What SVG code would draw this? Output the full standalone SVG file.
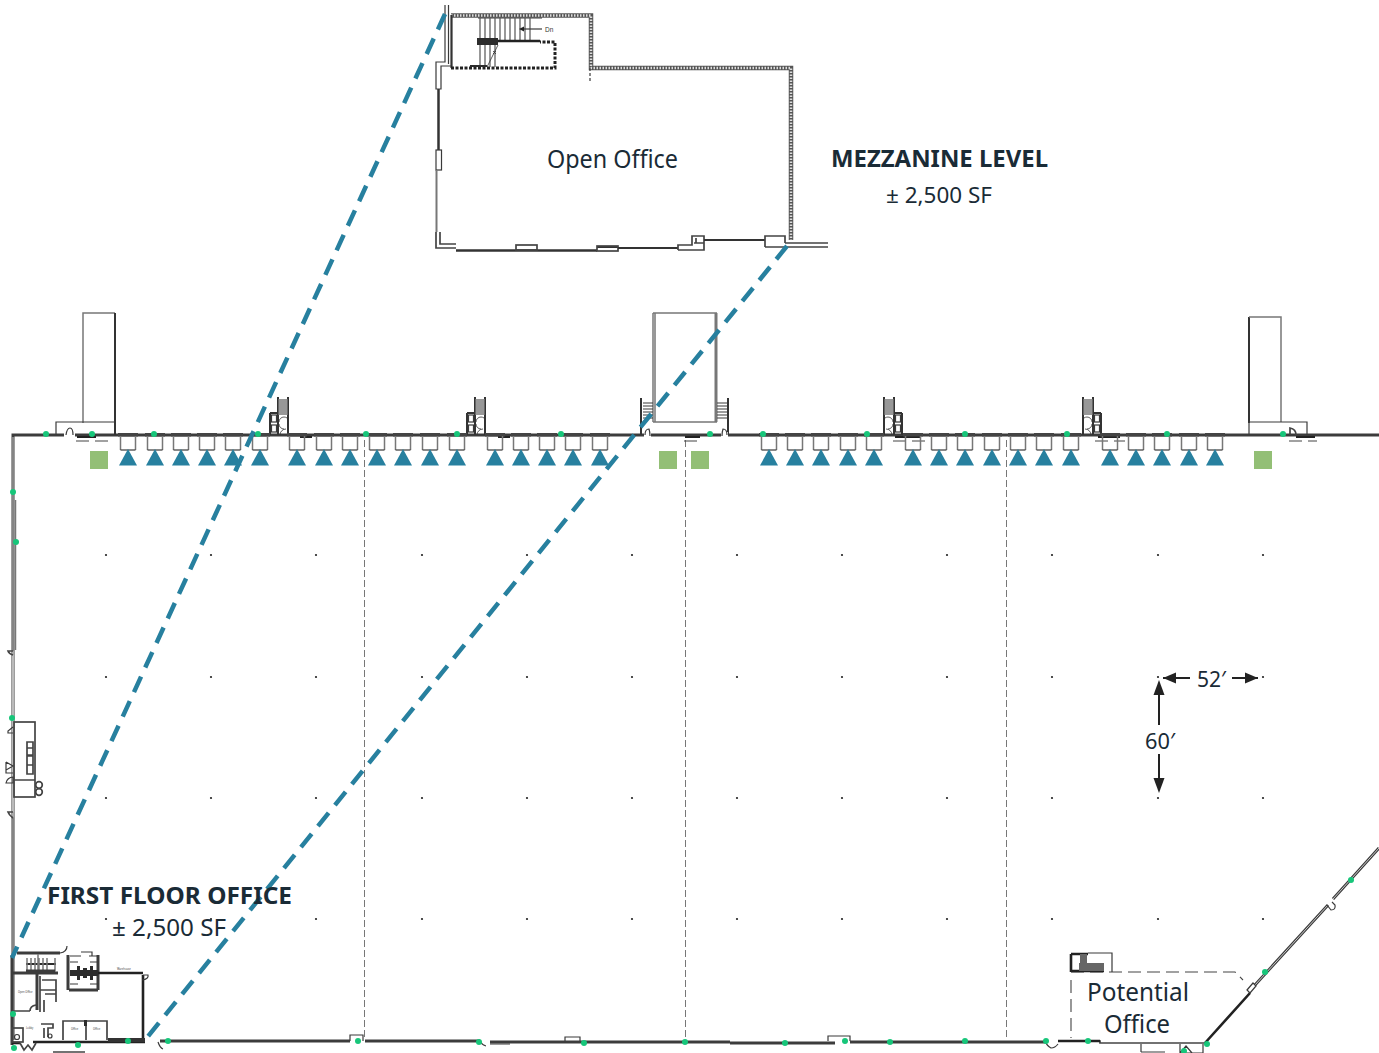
<svg xmlns="http://www.w3.org/2000/svg" width="1379" height="1053" viewBox="0 0 1379 1053">
<style>
text{font-family:"Noto Sans","Open Sans","Liberation Sans",sans-serif;fill:#1a2b36}
.b{font-weight:700}
.w{fill:none;stroke:#333;stroke-width:2}
.m{fill:none;stroke:#3a3a3a;stroke-width:1.200}
.m6{fill:none;stroke:#444;stroke-width:1.700}
.t{fill:none;stroke:#333;stroke-width:.8}
.g{fill:none;stroke:#777;stroke-width:1.500}
.k{fill:none;stroke:#222;stroke-width:2.600}
.dw{fill:none;stroke:#3c3c3c;stroke-width:3}
.di{fill:none;stroke:#ccc;stroke-width:1}
.hb{fill:none;stroke:#555;stroke-width:4.500}
.hw{fill:none;stroke:#ddd;stroke-width:2.500;stroke-dasharray:1.500 1.500}
.dots{fill:none;stroke:#222;stroke-width:3;stroke-dasharray:3 1.500}
.dl{fill:none;stroke:#777;stroke-width:1;stroke-dasharray:7 3}
.pd{fill:none;stroke:#444;stroke-width:1.100;stroke-dasharray:13 6}
.sl{fill:none;stroke:#27809f;stroke-width:4.500;stroke-dasharray:17 10}
.tri{fill:#27809f}
.sq{fill:#93bf76}
.gd{fill:#17c67a}
.dot{fill:#222}
.ar{fill:#222}
.ln{fill:none;stroke:#222;stroke-width:2}
.tiny{font-size:2.600px;fill:#444}
.bk{fill:#2c2c2c}
</style>
<defs>
<g id="dock"><rect x="-10" y="-2" width="20" height="3.500" fill="#444"/><path class="g" d="M-7.500 1V15M7.500 1V15"/><path class="m" d="M-7.500 15H7.500"/><polygon class="tri" points="0,14 9,30.500 -9,30.500"/></g>
<g id="stair"><path class="w" d="M0 0V38M10 0V38M-8 16H0M-8 16V38"/><path class="g" d="M0 3H10M0 5H10M0 7H10M0 9H10M0 11H10M0 13H10M0 15H10M0 17H10"/><rect x="-6.500" y="18" width="5" height="7" class="m"/><rect x="-6.500" y="28" width="5" height="7" class="m"/><path class="t" d="M1 25a5 5 0 0 1 5 -5a5 5 0 0 1 3 1M1 27a5 5 0 0 0 5 5M2 38a6 6 0 0 1 6 -6"/></g>
<g id="post"><circle r="1.100" class="dot"/></g>
<g id="gp"><circle r="3" class="gd"/></g>
</defs>

<g id="floor-walls">
<path class="dw" d="M13 1040V651M13 655V812M13 818V435H1379"/>
<path class="di" d="M13 1040V651M13 655V812M13 818V437"/>
<path class="g" d="M15.500 500V650"/>
<path class="m6" d="M13 651h-5q1 3 5 4M13 812h-5q1 3 5 6"/>
<path class="dw" d="M160 1041H350M365 1041H480M490 1042H730M730 1043H835M850 1042H1045"/>
<path class="m6" d="M1058 1041H1100V1043H1205"/>
<path class="k" d="M1058 1041H1100M1205 1043L1250 993"/>
<path class="dw" d="M1255 985L1328 905M1333 899L1379 848"/>
<path class="di" d="M1255 985L1328 905M1333 899L1379 848"/>
<path class="m" d="M1141 1052H1165M1180 1044V1053H1203V1044M1180 1053L1186 1046 1192 1053M1141 1044V1052"/>
<path class="m" d="M1327 905l4 5q5 0 4 -5l-3 -3"/>
<path class="m" d="M1247 990l6 -7 3 3 -6 7z"/>
<path class="m" d="M350 1041V1035H363V1041M565 1041V1037H580V1041M828 1041V1036H850V1041M1045 1041q2 5 6 7 4 0 7 -4"/>
<path class="m" d="M480 1041q2 4 6 5M510 1044H490M158 1042q2 6 5 7"/>
</g>

<g id="left-rooms">
<rect class="m6" x="14" y="722" width="21" height="75"/>
<path class="m6" d="M14 780H35M27 742h6v6h-6zM27 748h6v7h-6zM27 756h6v9h-6zM27 765h6v9h-6z"/>
<circle class="m6" cx="39" cy="785" r="3.300"/><circle class="m6" cx="39" cy="792" r="3.300"/>
<path class="m" d="M13 733h-5v-2l5 -4M6 762l7 4 -7 4v3h7M6 762v11M6 783a7 7 0 0 1 7 -6v6z"/>
</g>

<g id="column-grid">
<path class="dl" d="M364.500 440V1040M685.500 440V1040M1006.500 440V1040"/>
<use href="#post" x="106" y="555"/><use href="#post" x="211" y="555"/><use href="#post" x="316" y="555"/><use href="#post" x="422" y="555"/><use href="#post" x="527" y="555"/><use href="#post" x="632" y="555"/><use href="#post" x="737" y="555"/><use href="#post" x="842" y="555"/><use href="#post" x="947" y="555"/><use href="#post" x="1052" y="555"/><use href="#post" x="1158" y="555"/><use href="#post" x="1263" y="555"/>
<use href="#post" x="106" y="677"/><use href="#post" x="211" y="677"/><use href="#post" x="316" y="677"/><use href="#post" x="422" y="677"/><use href="#post" x="527" y="677"/><use href="#post" x="632" y="677"/><use href="#post" x="737" y="677"/><use href="#post" x="842" y="677"/><use href="#post" x="947" y="677"/><use href="#post" x="1052" y="677"/><use href="#post" x="1158" y="677"/><use href="#post" x="1263" y="677"/>
<use href="#post" x="106" y="798"/><use href="#post" x="211" y="798"/><use href="#post" x="316" y="798"/><use href="#post" x="422" y="798"/><use href="#post" x="527" y="798"/><use href="#post" x="632" y="798"/><use href="#post" x="737" y="798"/><use href="#post" x="842" y="798"/><use href="#post" x="947" y="798"/><use href="#post" x="1052" y="798"/><use href="#post" x="1158" y="798"/><use href="#post" x="1263" y="798"/>
<use href="#post" x="106" y="919"/><use href="#post" x="211" y="919"/><use href="#post" x="316" y="919"/><use href="#post" x="422" y="919"/><use href="#post" x="527" y="919"/><use href="#post" x="632" y="919"/><use href="#post" x="737" y="919"/><use href="#post" x="842" y="919"/><use href="#post" x="947" y="919"/><use href="#post" x="1052" y="919"/><use href="#post" x="1158" y="919"/><use href="#post" x="1263" y="919"/>
</g>

<g id="towers">
<path class="g" d="M83 423V313H115"/><path class="w" d="M115 313V435"/><path class="m" d="M56 435V422H115"/>
<path class="g" d="M653 422V313M655 313V422M653 313H717M653 422H717"/>
<path class="g" style="stroke-width:3" d="M716 313V422"/>
<path class="w" d="M641 435V398M728 435V398"/>
<path class="m" d="M643 403H653M643 406H653M643 409H653M643 412H653M643 415H653M643 418H653M717 403H727M717 406H727M717 409H727M717 412H727M717 415H727M717 418H727"/>
<rect x="644" y="432" width="7" height="5" fill="#fff"/><rect x="721" y="432" width="7" height="5" fill="#fff"/>
<path class="m" d="M645 435q0 -6 4 -6 1 3 1 7M722 436q0 -4 1 -7 4 0 4 6"/>
<path class="w" d="M1249 423V317"/><path class="g" d="M1249 317H1281V422"/><path class="m" d="M1249 435V422H1307V435"/>
<rect x="64" y="432" width="11" height="5" fill="#fff"/><path class="m" d="M66 435q1 -7 4 -7 3 0 3 7"/>
<path class="m6" d="M1290 435v-7q6 1 6 7"/>
<path class="pd" d="M76 441H113M1289 441H1317M893 441H928M1095 441H1125M684 441H700"/>
<path class="k" d="M77 437H96M1296 437H1315M895 437H920M1098 437H1120M685 437H700M300 437H312M498 437H510" style="stroke-width:2"/>
<use href="#stair" x="278" y="397"/>
<use href="#stair" x="475" y="397"/>
<use href="#stair" transform="translate(894 397) scale(-1 1)"/>
<use href="#stair" transform="translate(1093 397) scale(-1 1)"/>
</g>

<g id="docks">
<use href="#dock" x="128" y="435"/><use href="#dock" x="155" y="435"/><use href="#dock" x="181" y="435"/><use href="#dock" x="207" y="435"/><use href="#dock" x="233" y="435"/><use href="#dock" x="260" y="435"/>
<use href="#dock" x="297" y="435"/><use href="#dock" x="324" y="435"/><use href="#dock" x="350" y="435"/><use href="#dock" x="377" y="435"/><use href="#dock" x="403" y="435"/><use href="#dock" x="430" y="435"/><use href="#dock" x="457" y="435"/>
<use href="#dock" x="495" y="435"/><use href="#dock" x="521" y="435"/><use href="#dock" x="547" y="435"/><use href="#dock" x="573" y="435"/><use href="#dock" x="600" y="435"/>
<use href="#dock" x="769" y="435"/><use href="#dock" x="795" y="435"/><use href="#dock" x="821" y="435"/><use href="#dock" x="848" y="435"/><use href="#dock" x="874" y="435"/>
<use href="#dock" x="913" y="435"/><use href="#dock" x="939" y="435"/><use href="#dock" x="965" y="435"/><use href="#dock" x="992" y="435"/><use href="#dock" x="1018" y="435"/><use href="#dock" x="1044" y="435"/><use href="#dock" x="1071" y="435"/>
<use href="#dock" x="1110" y="435"/><use href="#dock" x="1136" y="435"/><use href="#dock" x="1162" y="435"/><use href="#dock" x="1189" y="435"/><use href="#dock" x="1215" y="435"/>
<rect class="sq" x="90" y="451" width="18" height="18"/><rect class="sq" x="659" y="451" width="18" height="18"/><rect class="sq" x="691" y="451" width="18" height="18"/><rect class="sq" x="1254" y="451" width="18" height="18"/>
</g>

<g id="mezzanine">
<path class="hb" d="M451 15.500H591V68H791V240"/>
<path class="hw" d="M451 15.500H591V68H791V240"/>
<path class="w" style="stroke-width:2.200" d="M451.500 15V68"/>
<path class="dots" d="M451 68H555V42H540"/>
<path class="m" d="M590 68V83" style="stroke-dasharray:3 2"/>
<path class="m" d="M448.500 5V64M445 5V62H436V89H441V66H451"/>
<path class="w" style="stroke-width:2.500" d="M438.500 89V150"/>
<rect x="436" y="150" width="5.500" height="20" class="m"/>
<path class="g" style="stroke-width:2" d="M436.500 170V232"/>
<path class="m6" d="M436 232V248H456M440 232V244H456"/>
<path class="w" style="stroke-width:2.500" d="M456 250.500H597"/>
<rect x="516" y="245" width="21" height="5" class="m6" fill="#fff"/>
<path class="w" d="M597 247H618"/><rect x="597" y="246" width="21" height="5" class="m6"/>
<path class="w" d="M618 248H678"/>
<path class="m6" d="M678 250V245H692V236H704V250H678M694 243H704M696 238V243"/>
<path class="w" d="M704 240H765"/>
<path class="m6" d="M765 247V236H785V243M765 247H828M785 243H828"/>
<path class="m" d="M478 18H542"/>
<path class="m" style="stroke:#555" d="M480 18V42M485 18V42M490 18V42M495 18V42M500 18V42M505 18V42M510 18V42M515 18V42M520 18V42M525 18V42M530 18V42M480 45V67M485 45V67M490 45V67M495 45V67"/>
<path class="k" d="M498 41H540"/>
<rect x="477" y="38" width="21" height="7" class="bk"/>
<rect x="470" y="65" width="17" height="2" class="bk"/>
<path class="t" d="M487 67L498 45M493 51l3 3M496 51l-3 3"/>
<path class="m" d="M521 29H542"/>
<polygon points="519,29 524,26.500 524,31.500" class="ar"/>
<text x="545" y="32" font-size="6.500" style="font-family:'Liberation Sans',sans-serif;fill:#333">Dn</text>
</g>

<g id="first-floor-office">
<path class="dw" d="M12 1045V955M17 953H60M12 973H58M37 973V1010M68 955V990M69 990H98M98 955V990"/>
<rect x="70" y="970" width="28" height="6" class="bk"/>
<rect x="77" y="966" width="3" height="14" class="bk"/><rect x="90" y="966" width="3" height="14" class="bk"/><rect x="83" y="968" width="4" height="10" class="bk"/>
<path class="k" d="M98 973H143M143 975V1038"/>
<path class="m6" d="M63 1040V1021H107V1040M86 1024V1040"/>
<rect x="84" y="1020" width="3" height="6" class="bk"/>
<path class="k" d="M33 1042H145"/>
<path class="k" d="M12 1043H20"/>
<path class="m" d="M60 953q7 -1 7 -7M143 975h5q1 4 -6 5"/>
<rect x="26" y="963" width="30" height="2" class="bk"/>
<path class="g" d="M27 958V972M31 958V972M35 958V972M39 958V972M43 958V972M47 958V972M38 954V972M55 958V972"/>
<path class="dw" d="M26 971H55"/>
<path class="m6" d="M12 1011H30M30 1011q0 -5 6 -6M40 976V1012M44 1000V1012M40 990H56M42 980H56V1002M45 994H56"/>
<path class="m" d="M70 956H81M89 956H98M81 952H92V956M70 962H78M90 962H98M70 984H78M90 984H98"/>
<path class="m6" d="M41 1024H53V1028H48V1037M44 1028V1038M20 1043L24 1050 28 1045 32 1050 36 1043M53 1052H85"/>
<rect x="12" y="1028" width="11" height="14" class="m6"/><circle class="m" cx="17" cy="1037" r="2.500"/>
<circle class="m" cx="50" cy="1036" r="2"/>
<rect x="108" y="1038" width="37" height="4" fill="#333"/>
<text class="tiny" x="18" y="993">Open Office</text><text class="tiny" x="117" y="970">Warehouse</text><text class="tiny" x="26" y="1029">Lobby</text><text class="tiny" x="71" y="1030">Office</text><text class="tiny" x="93" y="1030">Office</text>
</g>

<g id="sight-lines">
<path class="sl" d="M445 14L12 958"/>
<path class="sl" d="M787 246L145 1040"/>
</g>

<g id="potential-office">
<path class="pd" d="M1071 972H1235L1243 980M1071 980V1038"/>
<path class="m" d="M1088 953H1112V972"/>
<path class="k" d="M1071 954H1088M1071 954V972M1071 971H1104"/>
<rect x="1079" y="963" width="25" height="8" fill="#666"/>
<rect x="1080" y="954" width="7" height="9" fill="#666"/>
</g>

<g id="gps">
<use href="#gp" x="46" y="434"/><use href="#gp" x="92" y="434"/><use href="#gp" x="154" y="434"/><use href="#gp" x="258" y="434"/><use href="#gp" x="366" y="434"/><use href="#gp" x="457" y="434"/><use href="#gp" x="561" y="434"/><use href="#gp" x="710" y="434"/><use href="#gp" x="763" y="434"/><use href="#gp" x="867" y="434"/><use href="#gp" x="965" y="434"/><use href="#gp" x="1067" y="434"/><use href="#gp" x="1167" y="434"/><use href="#gp" x="1283" y="434"/>
<use href="#gp" x="13" y="492"/><use href="#gp" x="16" y="542"/><use href="#gp" x="12" y="718"/><use href="#gp" x="13" y="1014"/><use href="#gp" x="14" y="1048"/><use href="#gp" x="78" y="1045"/><use href="#gp" x="128" y="1041"/><use href="#gp" x="168" y="1041"/>
<use href="#gp" x="358" y="1041"/><use href="#gp" x="479" y="1042"/><use href="#gp" x="584" y="1043"/><use href="#gp" x="685" y="1042"/><use href="#gp" x="785" y="1043"/><use href="#gp" x="845" y="1041"/><use href="#gp" x="890" y="1042"/><use href="#gp" x="965" y="1041"/><use href="#gp" x="1046" y="1041"/><use href="#gp" x="1088" y="1041"/><use href="#gp" x="1207" y="1044"/><use href="#gp" x="1184" y="1051"/><use href="#gp" x="1265" y="972"/><use href="#gp" x="1351" y="880"/>
</g>

<g id="dimensions">
<path class="ln" d="M1163 678H1190M1232 678H1258M1159 686V725M1159 754V786"/>
<polygon class="ar" points="1163,678 1176,672.500 1176,683.500"/><polygon class="ar" points="1258,678 1245,672.500 1245,683.500"/>
<polygon class="ar" points="1159,680 1153.500,695 1164.500,695"/><polygon class="ar" points="1159,793 1153.500,778 1164.500,778"/>
<text x="1197" y="687" font-size="22" textLength="29" lengthAdjust="spacingAndGlyphs">52′</text>
<text x="1145" y="749" font-size="22" textLength="30" lengthAdjust="spacingAndGlyphs">60′</text>
</g>

<g id="labels">
<text x="547" y="168" font-size="25" textLength="131" lengthAdjust="spacingAndGlyphs">Open Office</text>
<text x="831" y="167" font-size="24" class="b" textLength="217" lengthAdjust="spacingAndGlyphs">MEZZANINE LEVEL</text>
<text x="886" y="203" font-size="22" textLength="106" lengthAdjust="spacingAndGlyphs">± 2,500 SF</text>
<text x="47" y="904" font-size="24" class="b" textLength="245" lengthAdjust="spacingAndGlyphs">FIRST FLOOR OFFICE</text>
<text x="112" y="936" font-size="24" textLength="114" lengthAdjust="spacingAndGlyphs">± 2,500 SF</text>
<text x="1087" y="1001" font-size="25" textLength="102" lengthAdjust="spacingAndGlyphs">Potential</text>
<text x="1104" y="1033" font-size="25" textLength="66" lengthAdjust="spacingAndGlyphs">Office</text>
</g>
</svg>
